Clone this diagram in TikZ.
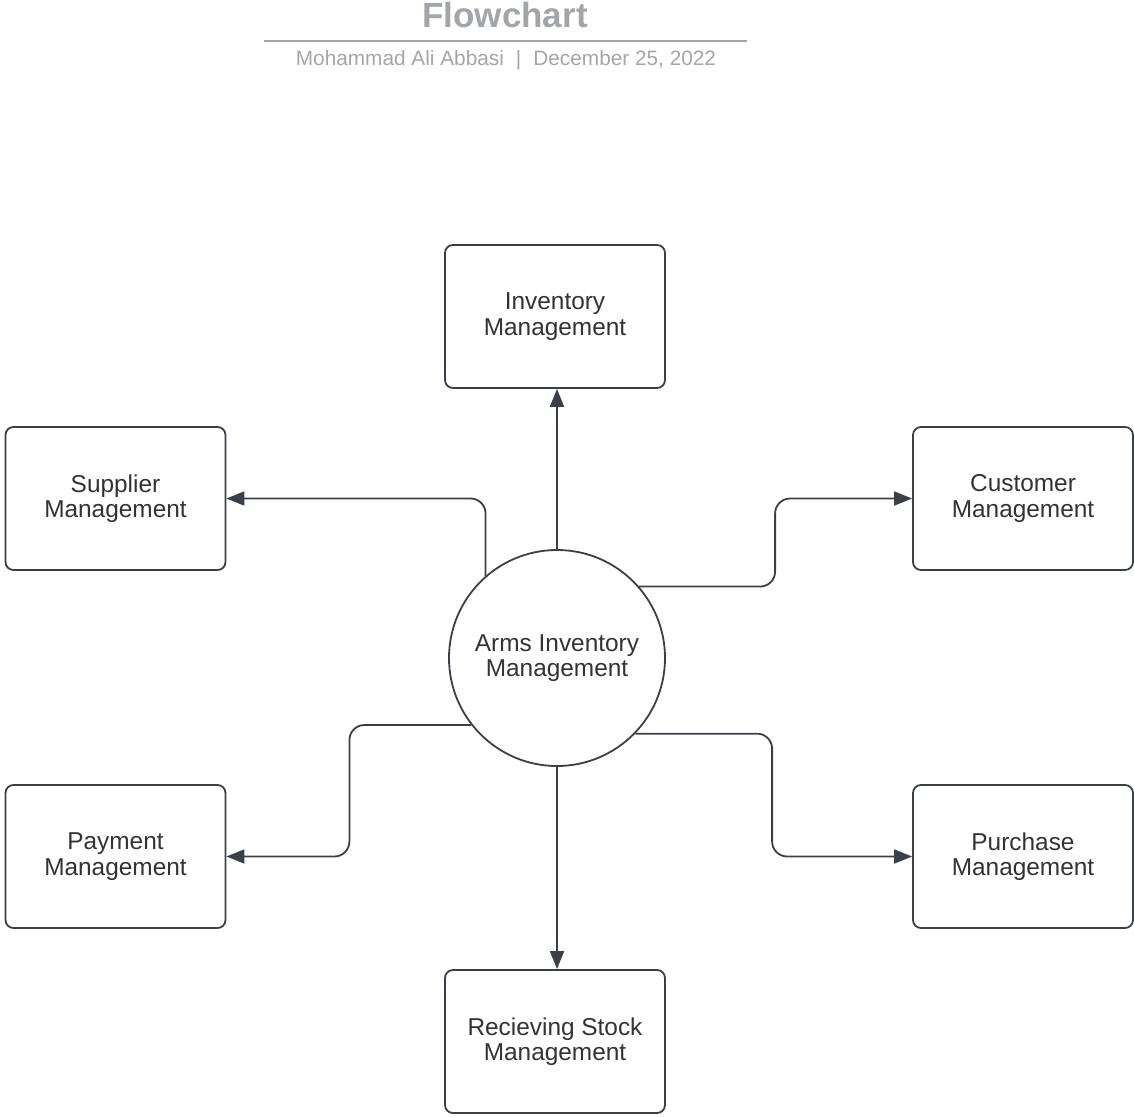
\documentclass[tikz,border=0pt]{standalone}
\usepackage{fontspec}
\setmainfont{Liberation Sans}
\usetikzlibrary{calc,arrows.meta}
\definecolor{linegray}{HTML}{3B4048}
\definecolor{textgray}{HTML}{333333}
\definecolor{titlegray}{HTML}{A2A5AA}
\definecolor{subgray}{HTML}{A5A5A5}
\begin{document}
\begin{tikzpicture}[x=0.5pt,y=-0.5pt,
  box/.style={draw=linegray,line width=0.9pt,rounded corners=4pt,fill=white,
    minimum width=110pt,minimum height=71.5pt,inner sep=0pt,align=center,
    text=textgray,font=\fontsize{12.2}{12.8}\selectfont},
  hub/.style={draw=linegray,line width=0.9pt,circle,minimum size=108pt,inner sep=0pt,
    align=center,text=textgray,font=\fontsize{12.2}{12.8}\selectfont},
  link/.style={draw=linegray,line width=0.9pt,rounded corners=7.5pt,
    -{Triangle[length=9pt,width=7pt]}}]
\useasboundingbox (0,0) rectangle (1134,1117);
% heading
\node[text=titlegray,font=\bfseries\fontsize{17.5}{20}\selectfont] (title) at (505,15) {Flowchart};
\draw[titlegray,line width=1.1pt] (264,41) -- (747,41);
\node[text=subgray,font=\fontsize{10.4}{12}\selectfont] (sub) at (506,60)
  {Mohammad Ali Abbasi\hspace{0.3em} | \hspace{0.3em}December 25, 2022};
% hub and modules
\node[hub] (c) at (557,658) {Arms Inventory\\Management};
\node[box] (inv) at (555,316.5) {Inventory\\Management};
\node[box] (sup) at (115.5,498.5) {Supplier\\Management};
\node[box] (cus) at (1023,498.5) {Customer\\Management};
\node[box] (pay) at (115.5,856.5) {Payment\\Management};
\node[box] (pur) at (1023,856.5) {Purchase\\Management};
\node[box] (rec) at (555,1041.5) {Recieving Stock\\Management};
% connectors
\draw[link] (c.north) -- (c.north |- inv.south);
\draw[link] (c.south) -- (c.south |- rec.north);
\draw[link] (c.131) |- (sup.east);
\draw[link] (c.41) -| ($(cus.west)+(-137,0)$) -- (cus.west);
\draw[link] (c.218) -| ($(pay.east)+(123,0)$) -- (pay.east);
\draw[link] (c.316) -| ($(pur.west)+(-140,0)$) -- (pur.west);
\end{tikzpicture}
\end{document}
